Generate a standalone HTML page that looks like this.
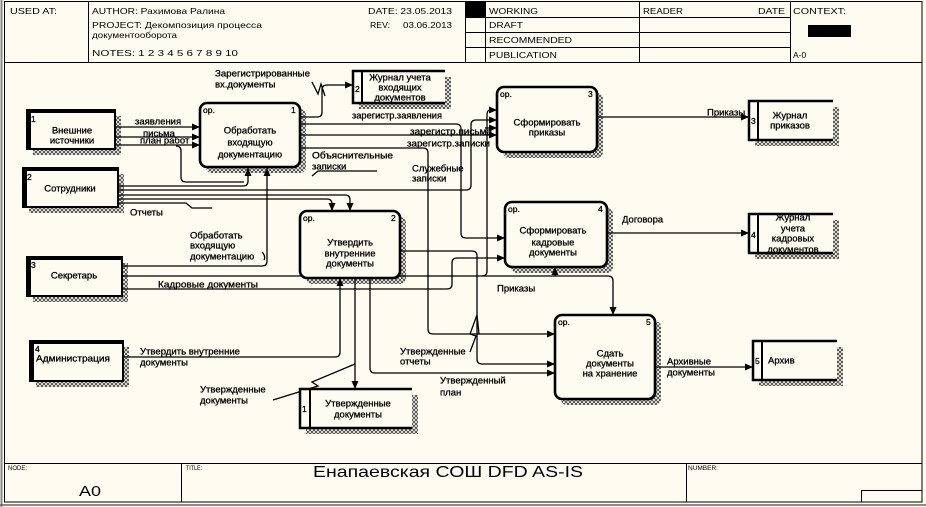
<!DOCTYPE html>
<html><head><meta charset="utf-8"><style>
html,body{margin:0;padding:0;background:#fefcf1;}
svg{display:block}
text{font-family:"Liberation Sans","DejaVu Sans",sans-serif;fill:#000}
.l{font-size:9.5px;stroke:#000;stroke-width:0.3}
.h{font-size:8.5px}
.n{font-size:8.5px;stroke:#000;stroke-width:0.3}
</style></head><body>
<svg width="926" height="507" viewBox="0 0 926 507" xmlns="http://www.w3.org/2000/svg">
<defs>
<pattern id="h" width="4" height="4" patternUnits="userSpaceOnUse"><rect width="4" height="4" fill="#fefcf1"/><path d="M0,0L4,4M4,0L0,4" stroke="#444" stroke-width="0.9"/></pattern>
<marker id="a" markerWidth="8" markerHeight="7" refX="8" refY="3.5" orient="auto" markerUnits="userSpaceOnUse"><path d="M0,0L8,3.5L0,7z" fill="#000"/></marker>
</defs>
<rect width="926" height="507" fill="#fefcf1"/>

<!-- frame -->
<line x1="1.5" y1="0" x2="1.5" y2="507" stroke="#888" stroke-width="2"/>
<rect x="4.5" y="1.5" width="917.5" height="500.5" fill="none" stroke="#000"/>
<line x1="0" y1="505" x2="926" y2="505" stroke="#666" stroke-width="1.5"/>

<!-- header -->
<g stroke="#000" stroke-width="1" fill="none">
<line x1="4.5" y1="62.5" x2="922" y2="62.5"/>
<line x1="88.5" y1="1.5" x2="88.5" y2="62.5"/>
<line x1="465.5" y1="1.5" x2="465.5" y2="62.5"/>
<line x1="485.5" y1="1.5" x2="485.5" y2="62.5"/>
<line x1="639.5" y1="1.5" x2="639.5" y2="62.5"/>
<line x1="790.5" y1="1.5" x2="790.5" y2="62.5"/>
<line x1="465.5" y1="17.5" x2="790.5" y2="17.5"/>
<line x1="465.5" y1="32.5" x2="790.5" y2="32.5"/>
<line x1="465.5" y1="47.5" x2="790.5" y2="47.5"/>
</g>
<rect x="466" y="2" width="19" height="15" fill="#000"/>
<rect x="808" y="25" width="43" height="12" fill="#000"/>
<text class="h" x="10" y="14" textLength="47" lengthAdjust="spacingAndGlyphs">USED AT:</text>
<text class="h" x="92" y="14" textLength="133" lengthAdjust="spacingAndGlyphs">AUTHOR: Рахимова Ралина</text>
<text class="h" x="92" y="28" textLength="170" lengthAdjust="spacingAndGlyphs">PROJECT: Декомпозиция процесса</text>
<text class="h" x="92" y="38" textLength="85" lengthAdjust="spacingAndGlyphs">документооборота</text>
<text class="h" x="92" y="56" textLength="146" lengthAdjust="spacingAndGlyphs">NOTES: 1 2 3 4 5 6 7 8 9 10</text>
<text class="h" x="368" y="14" textLength="84" lengthAdjust="spacingAndGlyphs">DATE: 23.05.2013</text>
<text class="h" x="370" y="28" textLength="20" lengthAdjust="spacingAndGlyphs">REV:</text>
<text class="h" x="403" y="28" textLength="49" lengthAdjust="spacingAndGlyphs">03.06.2013</text>
<text class="h" x="489" y="14" textLength="49" lengthAdjust="spacingAndGlyphs">WORKING</text>
<text class="h" x="489" y="28" textLength="34" lengthAdjust="spacingAndGlyphs">DRAFT</text>
<text class="h" x="489" y="43" textLength="83" lengthAdjust="spacingAndGlyphs">RECOMMENDED</text>
<text class="h" x="489" y="58" textLength="68" lengthAdjust="spacingAndGlyphs">PUBLICATION</text>
<text class="h" x="643" y="14" textLength="40" lengthAdjust="spacingAndGlyphs">READER</text>
<text class="h" x="758" y="14" textLength="27" lengthAdjust="spacingAndGlyphs">DATE</text>
<text class="h" x="793" y="14" textLength="53" lengthAdjust="spacingAndGlyphs">CONTEXT:</text>
<text class="h" x="793" y="58">A-0</text>

<!-- footer -->
<g stroke="#000" stroke-width="1" fill="none">
<line x1="4.5" y1="463.5" x2="922" y2="463.5"/>
<line x1="181.5" y1="463.5" x2="181.5" y2="502"/>
<line x1="686.5" y1="463.5" x2="686.5" y2="502"/>
<rect x="861.5" y="490.5" width="60.5" height="11.5"/>
</g>
<text x="8" y="470" style="font-size:6.5px" textLength="19" lengthAdjust="spacingAndGlyphs">NODE:</text>
<text x="186" y="470" style="font-size:6.5px" textLength="16" lengthAdjust="spacingAndGlyphs">TITLE:</text>
<text x="688" y="470" style="font-size:6.5px" textLength="30" lengthAdjust="spacingAndGlyphs">NUMBER:</text>
<text x="79" y="496" style="font-size:15px" textLength="22" lengthAdjust="spacingAndGlyphs">A0</text>
<text x="313" y="477" style="font-size:16px" textLength="270" lengthAdjust="spacingAndGlyphs">Енапаевская СОШ DFD AS-IS</text>

<!-- shadows -->
<g fill="url(#h)">
<rect x="206" y="109" width="100" height="64" rx="6"/>
<rect x="306" y="217" width="100" height="67" rx="6"/>
<rect x="503" y="93" width="100" height="65" rx="6"/>
<rect x="511" y="208" width="102" height="65" rx="6"/>
<rect x="561" y="321" width="100" height="84" rx="6"/>
<rect x="33" y="116" width="88" height="39"/>
<rect x="29" y="174" width="95" height="39"/>
<rect x="33" y="263" width="95" height="39"/>
<rect x="36" y="347" width="93" height="40"/>
<rect x="359" y="77" width="92" height="32"/>
<rect x="755" y="107" width="84" height="39"/>
<rect x="755" y="220" width="84" height="39"/>
<rect x="759" y="347" width="84" height="39"/>
<rect x="306" y="395" width="112" height="39"/>
</g>

<!-- connectors -->
<g stroke="#000" stroke-width="1.3" fill="none">
<path d="M115,127H200" marker-end="url(#a)"/>
<path d="M115,137H200" marker-end="url(#a)"/>
<path d="M115,145H200" marker-end="url(#a)"/>
<path d="M176,146Q181,146 181,151V177Q181,182 186,182H244"/>
<path d="M118,186H243Q248,186 248,181V168" marker-end="url(#a)"/>
<path d="M122,266H262Q267,266 267,261V168" marker-end="url(#a)"/>
<path d="M118,190H466Q471,190 471,185V125Q471,120 476,120H497" marker-end="url(#a)"/>
<path d="M118,195H345Q350,195 350,200V211" marker-end="url(#a)"/>
<path d="M118,199H327Q332,199 332,204V211" marker-end="url(#a)"/>
<path d="M118,203H186L192,208H212"/>
<path d="M300,117H317Q322,117 322,112V90Q322,85 327,85H353" marker-end="url(#a)"/>
<path d="M300,124H456Q461,124 461,129V233Q461,238 466,238H505" marker-end="url(#a)"/>
<path d="M300,135H497" marker-end="url(#a)"/>
<path d="M485,128H497" marker-end="url(#a)"/>
<path d="M300,148H423Q428,148 428,153V329Q428,334 433,334H555" marker-end="url(#a)"/>
<path d="M122,276H608Q613,276 613,281V315" marker-end="url(#a)"/>
<path d="M555,276V267" marker-end="url(#a)"/>
<path d="M482,276Q487,276 487,271V115Q487,110 490,110H497" marker-end="url(#a)"/>
<path d="M122,289H447Q452,289 452,284V263Q452,258 457,258H505" marker-end="url(#a)"/>
<path d="M400,251H472Q477,251 477,256V359Q477,364 482,364H555" marker-end="url(#a)"/>
<path d="M123,357H335Q340,357 340,352V278" marker-end="url(#a)"/>
<path d="M355,278V389" marker-end="url(#a)"/>
<path d="M370,278V368Q370,373 375,373H555" marker-end="url(#a)"/>
<path d="M597,117H749" marker-end="url(#a)"/>
<path d="M607,233H749" marker-end="url(#a)"/>
<path d="M655,367H753" marker-end="url(#a)"/>
<!-- leaders / squiggles -->
<path d="M312,82L318,94L321,84L325,96"/>
<path d="M377,171H318L312,176"/>
<path d="M262,252Q266,256 264,260"/>
<path d="M273,400L318,386L312,382L355,364"/>
<path d="M470,352L476,336L470,334L477,315L479,334"/>
</g>

<!-- process boxes -->
<g fill="#fefcf1" stroke="#000" stroke-width="2.6">
<rect x="200" y="103" width="100" height="64" rx="7"/>
<rect x="300" y="211" width="100" height="67" rx="7"/>
<rect x="497" y="87" width="100" height="65" rx="7"/>
<rect x="505" y="202" width="102" height="65" rx="7"/>
<rect x="555" y="315" width="100" height="84" rx="7"/>
</g>
<!-- external entities -->
<g fill="#fefcf1" stroke="#000" stroke-width="2">
<rect x="27" y="110" width="88" height="39"/>
<rect x="23" y="168" width="95" height="39"/>
<rect x="27" y="257" width="95" height="39"/>
<rect x="30" y="341" width="93" height="40"/>
</g>
<g fill="#000">
<rect x="26" y="109" width="5" height="41"/><rect x="26" y="109" width="90" height="4"/>
<rect x="22" y="167" width="5" height="41"/><rect x="22" y="167" width="97" height="4"/>
<rect x="26" y="256" width="5" height="41"/><rect x="26" y="256" width="97" height="4"/>
<rect x="29" y="340" width="5" height="42"/><rect x="29" y="340" width="95" height="4"/>
</g>
<!-- data stores -->
<g fill="#fefcf1" stroke="none">
<rect x="353" y="71" width="92" height="32"/>
<rect x="749" y="101" width="84" height="39"/>
<rect x="749" y="214" width="84" height="39"/>
<rect x="753" y="341" width="84" height="39"/>
<rect x="300" y="389" width="112" height="39"/>
</g>
<g fill="none" stroke="#000" stroke-width="2.5">
<path d="M445,71H353V103H445"/><line x1="362" y1="71" x2="362" y2="103" stroke-width="2"/>
<path d="M833,101H749V140H833"/><line x1="758" y1="101" x2="758" y2="140" stroke-width="2"/>
<path d="M833,214H749V253H833"/><line x1="758" y1="214" x2="758" y2="253" stroke-width="2"/>
<path d="M837,341H753V380H837"/><line x1="762" y1="341" x2="762" y2="380" stroke-width="2"/>
<path d="M412,389H300V428H412"/><line x1="310" y1="389" x2="310" y2="428" stroke-width="2"/>
</g>

<!-- node text -->
<g class="n">
<text x="203" y="113">ор.</text><text x="291" y="113">1</text>
<text x="303" y="221">ор.</text><text x="391" y="221">2</text>
<text x="500" y="97">ор.</text><text x="588" y="97">3</text>
<text x="508" y="212">ор.</text><text x="598" y="212">4</text>
<text x="558" y="325">ор.</text><text x="646" y="325">5</text>
<text x="31" y="122">1</text><text x="27" y="180">2</text><text x="31" y="268">3</text><text x="35" y="352">4</text>
<text x="355" y="92">2</text><text x="751" y="124">3</text><text x="751" y="238">4</text><text x="755" y="364">5</text><text x="302" y="412">1</text>
</g>
<g class="l" text-anchor="middle">
<text x="250" y="133.5">Обработать</text><text x="250" y="145.5">входящую</text><text x="250" y="157.5">документацию</text>
<text x="350" y="245.5">Утвердить</text><text x="350" y="256.5">внутренние</text><text x="350" y="266.5">документы</text>
<text x="547" y="125.5">Сформировать</text><text x="547" y="135.5">приказы</text>
<text x="553" y="233.5">Сформировать</text><text x="553" y="245.5">кадровые</text><text x="553" y="255.5">документы</text>
<text x="610" y="356.5">Сдать</text><text x="610" y="366.5">документы</text><text x="610" y="376.5">на хранение</text>
<text x="400" y="80.5">Журнал учета</text><text x="400" y="90.5">входящих</text><text x="400" y="100.5">документов</text>
<text x="790" y="118.5">Журнал</text><text x="790" y="128.5">приказов</text>
<text x="793" y="220.5">Журнал</text><text x="793" y="231.5">учета</text><text x="793" y="241.5">кадровых</text><text x="793" y="252.5">документов</text>
<text x="358" y="406.5">Утвержденные</text><text x="358" y="417.5">документы</text>
<text x="72" y="133.5">Внешние</text><text x="72" y="143.5">источники</text>
<text x="70" y="191.5">Сотрудники</text>
<text x="74" y="278.5">Секретарь</text>
</g>
<text class="l" x="768" y="363.5">Архив</text>
<text class="l" x="36" y="361.5" textLength="74" lengthAdjust="spacingAndGlyphs">Администрация</text>

<!-- connector labels -->
<g class="l">
<text x="215" y="76.5" textLength="95" lengthAdjust="spacingAndGlyphs">Зарегистрированные</text>
<text x="215" y="87.5">вх.документы</text>
<text x="135" y="124.5">заявления</text>
<text x="143" y="136.5">письма</text>
<text x="140" y="143.5">план работ</text>
<text x="352" y="118.5" textLength="90" lengthAdjust="spacingAndGlyphs">зарегистр.заявления</text>
<text x="410" y="134.5" textLength="82" lengthAdjust="spacingAndGlyphs">зарегистр.письма</text>
<text x="407" y="146.5" textLength="83" lengthAdjust="spacingAndGlyphs">зарегистр.записки</text>
<text x="312" y="158.5" textLength="81" lengthAdjust="spacingAndGlyphs">Объяснительные</text>
<text x="312" y="169.5">записки</text>
<text x="412" y="171.5">Служебные</text>
<text x="412" y="181.5">записки</text>
<text x="130" y="215.5">Отчеты</text>
<text x="190" y="238.5">Обработать</text>
<text x="190" y="248.5">входящую</text>
<text x="190" y="259.5">документацию</text>
<text x="158" y="287.5" textLength="100" lengthAdjust="spacingAndGlyphs">Кадровые документы</text>
<text x="497" y="291.5">Приказы</text>
<text x="140" y="354.5" textLength="100" lengthAdjust="spacingAndGlyphs">Утвердить внутренние</text>
<text x="140" y="365.5">документы</text>
<text x="200" y="392.5">Утвержденные</text>
<text x="200" y="403.5">документы</text>
<text x="400" y="354.5">Утвержденные</text>
<text x="400" y="364.5">отчеты</text>
<text x="440" y="383.5">Утвержденный</text>
<text x="440" y="395.5">план</text>
<text x="667" y="364.5">Архивные</text>
<text x="667" y="375.5">документы</text>
<text x="707" y="115.5">Приказы</text>
<text x="622" y="222.5">Договора</text>
</g>
</svg>
</body></html>
